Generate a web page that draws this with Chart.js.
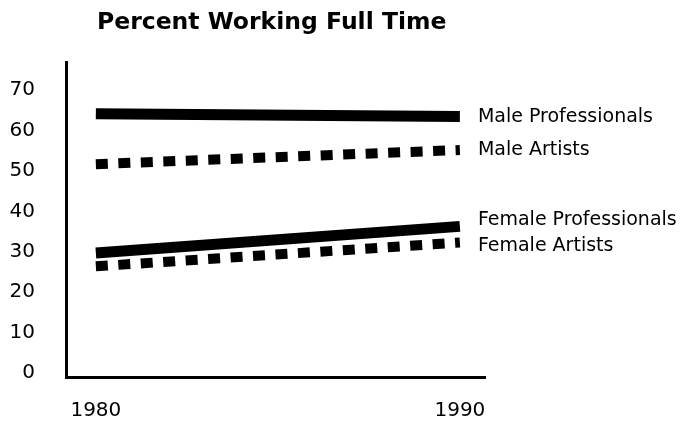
<!DOCTYPE html>
<html>
<head>
<meta charset="utf-8">
<title>Percent Working Full Time</title>
<script src="https://cdn.jsdelivr.net/npm/chart.js@4/dist/chart.umd.min.js"></script>
<style>
  body { margin: 0; background: #fff; }
  #wrap { position: relative; width: 683px; height: 427px; }
</style>
</head>
<body>
<div id="wrap"><canvas id="chart" width="683" height="427"></canvas></div>
<script>
// values
const years = [1980, 1990];
const maleProfessionals = [64.2, 63.5];
const maleArtists = [51.7, 55.2];
const femaleProfessionals = [29.7, 36.3];
const femaleArtists = [26.4, 32.3];
const seriesNames = ['Male Professionals', 'Male Artists', 'Female Professionals', 'Female Artists'];
const yTicks = [0, 10, 20, 30, 40, 50, 60, 70];
const xTicks = [1980, 1990];

const chartTitle = 'Percent Working Full Time';

// small nudges so end labels sit like the original
const labelNudge = [1, 0, -6, 4];

const toPoints = (vals) => vals.map((v, i) => ({x: years[i], y: v}));

const solid = (vals) => ({
    data: toPoints(vals),
    borderColor: '#000',
    borderWidth: 11,
    borderCapStyle: 'butt',
    pointRadius: 0,
    tension: 0
});
const dotted = (vals) => ({
    data: toPoints(vals),
    borderColor: '#000',
    borderWidth: 10,
    borderCapStyle: 'butt',
    borderDash: [12, 10.5],
    pointRadius: 0,
    tension: 0
});

// title + labels at the line ends
const textPlugin = {
    id: 'textPlugin',
    afterDatasetsDraw(chart) {
        const ctx = chart.ctx;
        const xs = chart.scales.x, ys = chart.scales.y;
        ctx.save();
        ctx.fillStyle = '#000';
        ctx.textAlign = 'left';
        ctx.textBaseline = 'alphabetic';
        ctx.font = 'bold 23.5px "DejaVu Sans"';
        ctx.fillText(chartTitle, 97, 29);

        ctx.textBaseline = 'middle';
        ctx.font = '19px "DejaVu Sans"';
        chart.data.datasets.forEach((ds, i) => {
            const last = ds.data[ds.data.length - 1];
            const px = xs.getPixelForValue(last.x) + 18;
            const py = ys.getPixelForValue(last.y) + labelNudge[i];
            ctx.fillText(seriesNames[i], px, py);
        });
        ctx.restore();
    }
};

new Chart(document.getElementById('chart'), {
    type: 'line',
    data: {
        datasets: [
            solid(maleProfessionals),
            dotted(maleArtists),
            solid(femaleProfessionals),
            dotted(femaleArtists)
        ]
    },
    options: {
        responsive: false,
        animation: false,
        layout: { padding: { top: 62, right: 198, left: 0, bottom: 0 } },
        plugins: {
            legend: { display: false },
            tooltip: { enabled: false },
            title: { display: false }
        },
        scales: {
            x: {
                type: 'linear',
                min: 1979.18,
                max: 1990.69,
                afterFit: (s) => { s.height = 50; },
                afterBuildTicks: (s) => { s.ticks = xTicks.map(v => ({value: v})); },
                grid: { display: false, drawTicks: false },
                border: { color: '#000', width: 3 },
                ticks: {
                    color: '#000',
                    padding: 22,
                    maxRotation: 0,
                    font: { family: 'DejaVu Sans', size: 20 },
                    callback: (v) => String(v)
                }
            },
            y: {
                min: -1,
                max: 77,
                afterFit: (s) => { s.width = 66; },
                afterBuildTicks: (s) => { s.ticks = yTicks.map(v => ({value: v})); },
                grid: { display: false, drawTicks: false },
                border: { color: '#000', width: 3 },
                ticks: {
                    color: '#000',
                    padding: 31,
                    font: { family: 'DejaVu Sans', size: 20 }
                }
            }
        }
    },
    plugins: [textPlugin]
});
</script>
</body>
</html>
